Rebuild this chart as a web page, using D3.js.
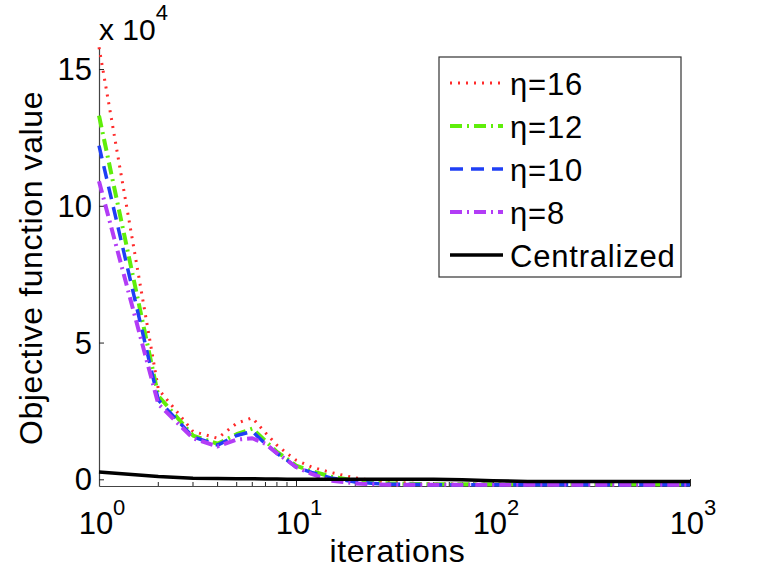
<!DOCTYPE html>
<html>
<head>
<meta charset="utf-8">
<script src="https://d3js.org/d3.v7.min.js"></script>
<style>
  body { margin: 0; background: #fff; }
  svg text { font-family: "Liberation Sans", Arial, Helvetica, sans-serif; fill: #000; }
</style>
</head>
<body>
<svg id="chart"></svg>
<script>
// iterations at which the objective was sampled
const iterations = [1, 2, 3, 4, 5, 6, 7, 8, 9, 10, 12, 15, 20, 25, 30, 40, 50, 70, 100, 150, 200, 300, 500, 700, 1000];

// objective values, in units of 10^4
const eta16 = [15.8, 3.3, 1.75, 1.5, 2.05, 2.25, 1.7, 1.25, 0.95, 0.7, 0.45, 0.25, 0.05, -0.05, -0.1, -0.15, -0.17, -0.18, -0.18, -0.18, -0.18, -0.18, -0.18, -0.18, -0.18];
const eta12 = [13.3, 3.05, 1.6, 1.3, 1.65, 1.85, 1.4, 1.0, 0.75, 0.5, 0.3, 0.1, -0.05, -0.12, -0.15, -0.17, -0.18, -0.18, -0.18, -0.18, -0.18, -0.18, -0.18, -0.18, -0.18];
const eta10 = [12.2, 2.9, 1.55, 1.25, 1.6, 1.75, 1.3, 0.95, 0.7, 0.45, 0.25, 0.05, -0.1, -0.15, -0.18, -0.19, -0.2, -0.2, -0.2, -0.2, -0.2, -0.2, -0.2, -0.2, -0.2];
const eta8 = [10.9, 2.75, 1.5, 1.2, 1.45, 1.5, 1.3, 0.95, 0.7, 0.45, 0.2, -0.05, -0.15, -0.18, -0.2, -0.2, -0.2, -0.2, -0.2, -0.2, -0.2, -0.2, -0.2, -0.2, -0.2];
const centralized = [0.27, 0.1, 0.04, 0.03, 0.02, 0.02, 0.01, 0.01, 0.0, 0.0, 0.0, 0.0, 0.0, 0.0, 0.0, 0.0, 0.0, -0.02, -0.05, -0.08, -0.08, -0.08, -0.08, -0.08, -0.08];

const seriesNames = ["\u03b7=16", "\u03b7=12", "\u03b7=10", "\u03b7=8", "Centralized"];
const yTicks = [0, 5, 10, 15];
const xTicks = [1, 10, 100, 1000];

const series = [
  { name: seriesNames[0], values: eta16, color: "#ff2a2a", width: 3, dash: "2,6" },
  { name: seriesNames[1], values: eta12, color: "#5fee0a", width: 4, dash: "12,5,2,5" },
  { name: seriesNames[2], values: eta10, color: "#1f3ff5", width: 3.5, dash: "13,8" },
  { name: seriesNames[3], values: eta8, color: "#b23cf6", width: 4, dash: "12,5,2,5" },
  { name: seriesNames[4], values: centralized, color: "#000", width: 3.5, dash: null }
];

const width = 761, height = 572;
const margin = { top: 48, right: 71, bottom: 86, left: 99 };
const innerW = width - margin.left - margin.right;
const innerH = height - margin.top - margin.bottom;

const svg = d3.select("#chart").attr("width", width).attr("height", height);
const chart = svg.append("g").attr("transform", `translate(${margin.left},${margin.top})`);

const xScale = d3.scaleLog().domain([1, 1000]).range([0, innerW]);
const yScale = d3.scaleLinear().domain([-0.245, 15.77]).range([innerH, 0]);

// minor log ticks
const minorTicks = [];
[1, 10, 100].forEach(p => { for (let k = 2; k <= 9; k++) minorTicks.push(k * p); });

// x axis: major ticks pointing inwards, labels drawn separately
const xAxis = d3.axisBottom(xScale).tickValues(xTicks).tickSizeInner(-7).tickSizeOuter(0).tickFormat("");
const xAxisG = chart.append("g").attr("class", "axis x-axis")
  .attr("transform", `translate(0,${innerH})`).call(xAxis);
xAxisG.selectAll(".tick").filter(d => d === 1).remove();
xAxisG.selectAll(".minor").data(minorTicks).join("line")
  .attr("class", "minor")
  .attr("x1", d => xScale(d)).attr("x2", d => xScale(d))
  .attr("y1", 0).attr("y2", -4);

xAxisG.selectAll(".xlab").data(xTicks).join("text")
  .attr("class", "xlab")
  .attr("x", d => xScale(d) + 3)
  .attr("y", 48)
  .attr("text-anchor", "middle")
  .style("font-size", "31px")
  .each(function(d) {
    const t = d3.select(this);
    t.append("tspan").text("10");
    t.append("tspan").attr("dy", -19).style("font-size", "22px").text(Math.round(Math.log10(d)));
  });

// y axis
const yAxis = d3.axisLeft(yScale).tickValues(yTicks).tickSizeInner(-5).tickSizeOuter(0).tickFormat("");
const yAxisG = chart.append("g").attr("class", "axis y-axis").call(yAxis);
yAxisG.selectAll(".ylab").data(yTicks).join("text")
  .attr("class", "ylab")
  .attr("x", -7)
  .attr("y", d => yScale(d) + 11)
  .attr("text-anchor", "end")
  .style("font-size", "31px")
  .text(d => d);

chart.selectAll(".axis path.domain").attr("stroke", "#444").attr("stroke-width", 1.2);
chart.selectAll(".axis line").attr("stroke", "#222").attr("stroke-width", 1);

// exponent note
const expo = svg.append("text").attr("x", 99).attr("y", 40).style("font-size", "30px");
expo.append("tspan").text("x 10");
expo.append("tspan").attr("dy", -20).style("font-size", "22px").text("4");

// axis titles
svg.append("text")
  .attr("x", margin.left + innerW / 2 + 3)
  .attr("y", 562)
  .attr("text-anchor", "middle")
  .style("font-size", "32px")
  .style("letter-spacing", "0.6px")
  .text("iterations");

svg.append("text")
  .attr("transform", `translate(42,${268}) rotate(-90)`)
  .attr("text-anchor", "middle")
  .style("font-size", "32px")
  .style("letter-spacing", "0.6px")
  .text("Objective function value");

// lines
const line = d3.line()
  .x((d, i) => xScale(iterations[i]))
  .y(d => yScale(d));

chart.selectAll(".series").data(series).join("path")
  .attr("class", "series")
  .attr("d", d => line(d.values))
  .attr("fill", "none")
  .attr("stroke", d => d.color)
  .attr("stroke-width", d => d.width)
  .attr("stroke-dasharray", d => d.dash)
  .attr("stroke-linejoin", "round");

// legend
const legend = svg.append("g").attr("transform", "translate(439,57)");
legend.append("rect")
  .attr("width", 242).attr("height", 220)
  .attr("fill", "#fff").attr("stroke", "#333").attr("stroke-width", 1.2);

const rows = legend.selectAll(".row").data(series).join("g")
  .attr("class", "row")
  .attr("transform", (d, i) => `translate(0,${26 + i * 43})`);
rows.append("line")
  .attr("x1", 11).attr("x2", 64).attr("y1", 0).attr("y2", 0)
  .attr("stroke", d => d.color)
  .attr("stroke-width", d => d.width)
  .attr("stroke-dasharray", d => d.dash);
rows.append("text")
  .attr("x", 71).attr("y", 12)
  .style("font-size", "31px")
  .style("letter-spacing", "0.8px")
  .text(d => d.name);
</script>
</body>
</html>
